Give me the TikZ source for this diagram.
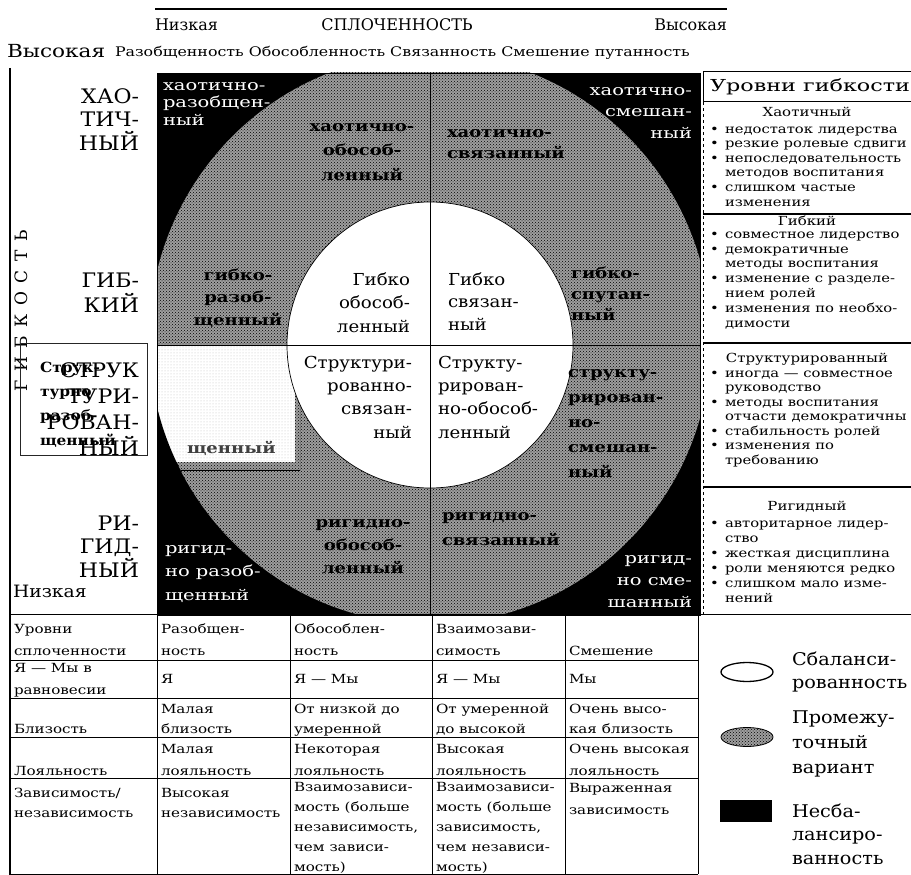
\documentclass[tikz,border=0pt]{standalone}
\usepackage{fontspec}
\setmainfont{DejaVu Serif}
\newfontfamily\fA[FakeStretch=1.1]{DejaVu Serif}
\newfontfamily\fB[FakeStretch=1.2]{DejaVu Serif}
\newfontfamily\fC[FakeStretch=1.3]{DejaVu Serif}
\newfontfamily\fD[FakeStretch=1.35]{DejaVu Serif}
\newfontfamily\fSp[LetterSpace=50]{DejaVu Serif}
\usetikzlibrary{patterns}
\newcommand{\pbul}{\makebox[15pt][l]{•}}
\newcommand{\pind}{\makebox[15pt][l]{}}
\tikzset{
 lab/.style={inner sep=0pt, outer sep=0pt},
 hd/.style={lab, font=\fontsize{16}{19}\selectfont},
 rowlab/.style={lab, anchor=base east, align=right, font=\fA\fontsize{20}{#1}\selectfont},
 rowlab/.default=24,
 wtxt/.style={lab, text=white, font=\fC\fontsize{15}{#1}\selectfont},
 wtxt/.default=22,
 btxt/.style={lab, font=\fB\bfseries\fontsize{15}{#1}\selectfont},
 btxt/.default=23,
 itxt/.style={lab, font=\fA\fontsize{16.5}{#1}\selectfont},
 itxt/.default=23,
 phd/.style={lab, anchor=base, font=\fB\fontsize{12.5}{15}\selectfont},
 pbody/.style={lab, anchor=base west, align=left, font=\fB\fontsize{12.3}{#1}\selectfont},
 pbody/.default=14.6,
 ttxt/.style={lab, anchor=base west, align=left, font=\fB\fontsize{12.6}{#1}\selectfont},
 ttxt/.default=20,
 legt/.style={lab, anchor=base west, align=left, font=\fA\fontsize{17.5}{#1}\selectfont},
 legt/.default=24,
 ringfill/.style={fill=black!38, postaction={pattern=crosshatch dots, pattern color=black}},
 thinln/.style={line width=0.8pt},
}
\begin{document}
\begin{tikzpicture}[x=1pt,y=-1pt]
\useasboundingbox (0,0) rectangle (911,875);
\fill[white] (0,0) rectangle (911,875);

% ---------- header ----------
\draw[line width=1.6pt] (155,9) -- (727,9);
\node[hd, anchor=base west] (nizk) at (155,31) {Низкая};
\node[hd, anchor=base] (splo) at (397,31) {СПЛОЧЕННОСТЬ};
\node[hd, anchor=base east] (vysk) at (727,31) {Высокая};
\node[lab, anchor=base west, font=\fB\fontsize{18}{20}\selectfont] (vysl) at (7,58) {Высокая};
\node[lab, anchor=base west, font=\fB\fontsize{13.2}{15}\selectfont] (cols) at (115,57) {Разобщенность Обособленность Связанность Смешение путанность};

% ---------- circumplex ----------
\fill[black] (157,73) rectangle (700,615);
\begin{scope}
 \clip (157,73) rectangle (700,615);
 \fill[ringfill] (430,339) ellipse (281 and 285);
 \fill[white] (157,345) rectangle (295,462);
 \fill[pattern=dots, pattern color=black!25] (157,345) rectangle (295,462);
 \begin{scope}
  \clip (150,340) rectangle (300,470);
  \fill[black, even odd rule] (150,340) rectangle (300,470) (430,339) ellipse (281 and 285);
 \end{scope}
\end{scope}
\fill[white] (430,345) circle (143);
\draw[line width=0.7pt] (430,345) circle (143);
\draw[line width=0.9pt] (430,73) -- (430,615);
\draw[line width=0.9pt] (157,345) -- (700,345);
\draw[line width=0.6pt] (157,73) rectangle (700,615);

% left axis
\draw[line width=1.5pt] (10,68) -- (10,875);
\node[lab, rotate=90, font=\fSp\fontsize{17}{19}\selectfont] (gibk) at (21.5,311) {ГИБКОСТЬ};

% row labels (anchor = baseline of last line)
\node[rowlab=23.5] (r1) at (139,150) {ХАО-\\ТИЧ-\\НЫЙ};
\node[rowlab=25] (r2) at (139,312) {ГИБ-\\КИЙ};
\node[rowlab=25.7] (r3) at (139,455) {СТРУК\\ТУРИ-\\РОВАН-\\НЫЙ};
\node[rowlab=23.5] (r4) at (139,577) {РИ-\\ГИД-\\НЫЙ};
\node[lab, anchor=base west, font=\fA\fontsize{17}{19}\selectfont] (nizl) at (13,597) {Низкая};

% overlay box
\draw[line width=0.5pt, black!85] (20,343) rectangle (147,455);
\node[lab, anchor=base west, align=left, font=\fA\bfseries\fontsize{14}{24.3}\selectfont] (bx) at (40,445) {Струк-\\турно\\разоб-\\щенный};

% cell texts
\node[wtxt=17.5, anchor=base west, align=left] (c11) at (163,125) {хаотично-\\разобщен-\\ный};
\node[btxt=24.5, anchor=base, align=center] (c12) at (362,180) {хаотично-\\обособ-\\ленный};
\node[btxt=21, anchor=base west, align=left] (c13) at (447,158) {хаотично-\\связанный};
\node[wtxt=21.5, anchor=base east, align=right] (c14) at (692,138) {хаотично-\\смешан-\\ный};

\node[btxt=22.5, anchor=base, align=center] (c21) at (238,325) {гибко-\\разоб-\\щенный};
\node[itxt=23.5, anchor=base east, align=right] (c22) at (410,332) {Гибко\\обособ-\\ленный};
\node[itxt=22.5, anchor=base west, align=left] (c23) at (448,330) {Гибко\\связан-\\ный};
\node[btxt=21, anchor=base west, align=left] (c24) at (571,320) {гибко-\\спутан-\\ный};

\node[btxt, anchor=base west, text=black!75] (c31) at (187,453) {щенный};
\node[itxt=23.3, anchor=base east, align=right] (c32) at (412,438) {Структури-\\рованно-\\связан-\\ный};
\node[itxt=23.3, anchor=base west, align=left] (c33) at (438,438) {Структу-\\рирован-\\но-обособ-\\ленный};
\node[btxt=25, anchor=base west, align=left] (c34) at (568,477) {структу-\\рирован-\\но-\\смешан-\\ный};

\node[wtxt=23.5, anchor=base west, align=left] (c41) at (165,600) {ригид-\\но разоб-\\щенный};
\node[btxt=23, anchor=base, align=center] (c42) at (363,573) {ригидно-\\обособ-\\ленный};
\node[btxt=25, anchor=base west, align=left] (c43) at (442,545) {ригидно-\\связанный};
\node[wtxt=22, anchor=base east, align=right] (c44) at (692,607) {ригид-\\но сме-\\шанный};

% ---------- right panel ----------
\draw[line width=1pt] (703,72) -- (911,72);
\draw[line width=1pt] (703,72) -- (703,102);
\draw[line width=1pt] (703,102) -- (911,102);
\draw[line width=0.6pt, dashed] (703,102) -- (703,614);
\draw[line width=1.1pt] (703,214) -- (911,214);
\draw[line width=1.1pt] (703,343) -- (911,343);
\draw[line width=1.8pt] (703,487) -- (911,487);
\node[lab, anchor=base west, font=\fD\fontsize{16.5}{19}\selectfont] (ph) at (710,92) {Уровни гибкости};

\node[phd] (h1) at (807,117) {Хаотичный};
\node[pbody] (p1) at (710,206) {\pbul недостаток лидерства\\\pbul резкие ролевые сдвиги\\\pbul непоследовательность\\\pind методов воспитания\\\pbul слишком частые\\\pind изменения};
\node[phd] (h2) at (807,225) {Гибкий};
\node[pbody=14.8] (p2) at (710,327) {\pbul совместное лидерство\\\pbul демократичные\\\pind методы воспитания\\\pbul изменение с разделе-\\\pind нием ролей\\\pbul изменения по необхо-\\\pind димости};
\node[phd] (h3) at (807,362) {Структурированный};
\node[pbody=14.5] (p3) at (710,464) {\pbul иногда — совместное\\\pind руководство\\\pbul методы воспитания\\\pind отчасти демократичны\\\pbul стабильность ролей\\\pbul изменения по\\\pind требованию};
\node[phd] (h4) at (807,510) {Ригидный};
\node[pbody=15] (p4) at (710,602) {\pbul авторитарное лидер-\\\pind ство\\\pbul жесткая дисциплина\\\pbul роли меняются редко\\\pbul слишком мало изме-\\\pind нений};

% ---------- table ----------
\draw[line width=1pt] (10,614) -- (911,614);
\foreach \yy in {660,698,737,778,874} \draw[thinln] (10,\yy) -- (698,\yy);
\foreach \xx in {157,290,432,565,698} \draw[thinln] (\xx,614) -- (\xx,874);

\node[ttxt=22] (t11) at (14,655) {Уровни\\сплоченности};
\node[ttxt=22] (t12) at (161,655) {Разобщен-\\ность};
\node[ttxt=22] (t13) at (294,655) {Обособлен-\\ность};
\node[ttxt=22] (t14) at (436,655) {Взаимозави-\\симость};
\node[ttxt] (t15) at (569,655) {Смешение};

\node[ttxt=22] (t21) at (14,694) {Я — Мы в\\равновесии};
\node[ttxt] (t22) at (161,683) {Я};
\node[ttxt] (t23) at (294,683) {Я — Мы};
\node[ttxt] (t24) at (436,683) {Я — Мы};
\node[ttxt] (t25) at (569,683) {Мы};

\node[ttxt] (t31) at (14,733) {Близость};
\node[ttxt] (t32) at (161,733) {Малая\\близость};
\node[ttxt] (t33) at (294,733) {От низкой до\\умеренной};
\node[ttxt] (t34) at (436,733) {От умеренной\\до высокой};
\node[ttxt] (t35) at (569,733) {Очень высо-\\кая близость};

\node[ttxt] (t41) at (14,775) {Лояльность};
\node[ttxt=22] (t42) at (161,775) {Малая\\лояльность};
\node[ttxt=22] (t43) at (294,775) {Некоторая\\лояльность};
\node[ttxt=22] (t44) at (436,775) {Высокая\\лояльность};
\node[ttxt=22] (t45) at (569,775) {Очень высокая\\лояльность};

\node[ttxt] (t51) at (14,817) {Зависимость/\\независимость};
\node[ttxt] (t52) at (161,817) {Высокая\\независимость};
\node[ttxt] (t53) at (294,871) {Взаимозависи-\\мость (больше\\независимость,\\чем зависи-\\мость)};
\node[ttxt] (t54) at (436,871) {Взаимозависи-\\мость (больше\\зависимость,\\чем независи-\\мость)};
\node[ttxt=22] (t55) at (569,814) {Выраженная\\зависимость};

% ---------- legend ----------
\draw[line width=1.3pt, fill=white] (747,672) ellipse (26 and 9.5);
\fill[ringfill] (747,737) ellipse (26 and 9.5);
\draw[line width=0.8pt] (747,737) ellipse (26 and 9.5);
\fill[black] (720,800) rectangle (772,822);
\node[legt=23] (lt1) at (792,688) {Сбаланси-\\рованность};
\node[legt=25] (lt2) at (792,773) {Промежу-\\точный\\вариант};
\node[legt=23.5] (lt3) at (792,864) {Несба-\\лансиро-\\ванность};
\end{tikzpicture}
\end{document}
